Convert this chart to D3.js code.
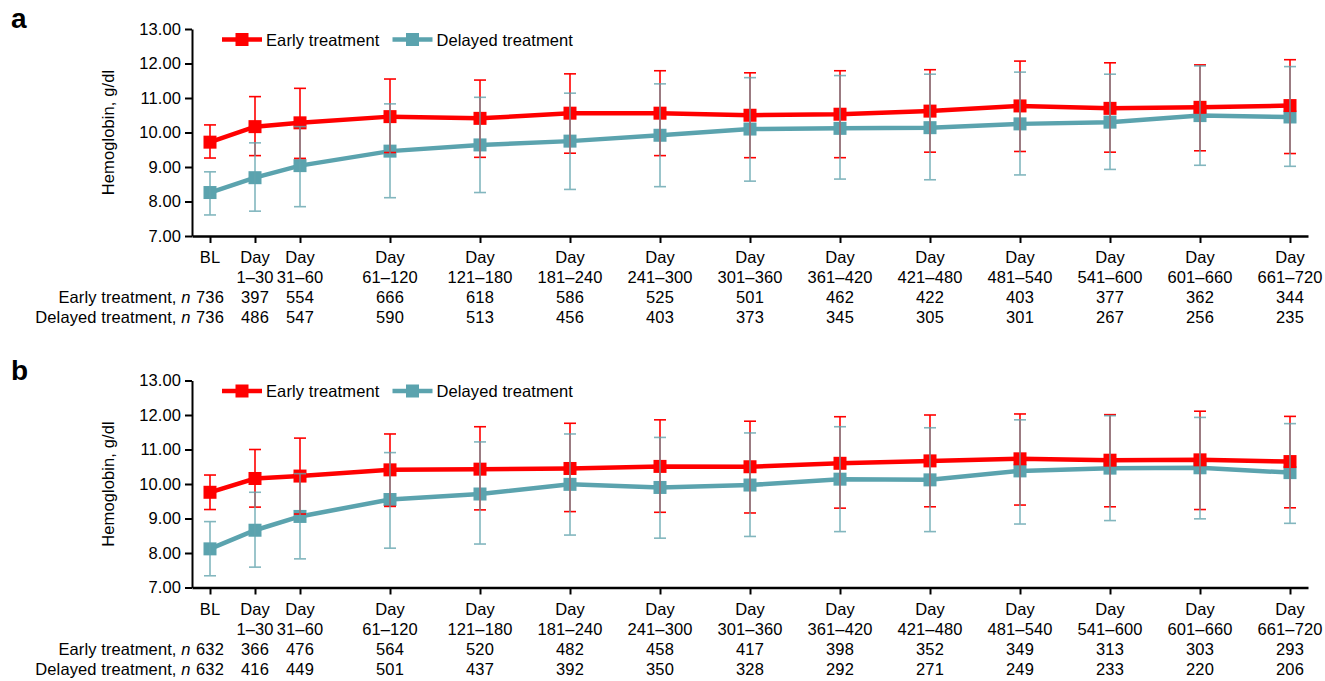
<!DOCTYPE html>
<html><head><meta charset="utf-8">
<script src="https://cdn.jsdelivr.net/npm/d3@7/dist/d3.min.js"></script>
<style>
body{margin:0;background:#fff;}
svg{display:block;font-family:"Liberation Sans",Arial,sans-serif;}
</style></head>
<body><svg id="chart" width="1325" height="681"></svg>
<script>
// ---------- data ----------
const categories = ["BL","Day 1–30","Day 31–60","Day 61–120","Day 121–180","Day 181–240","Day 241–300","Day 301–360","Day 361–420","Day 421–480","Day 481–540","Day 541–600","Day 601–660","Day 661–720"];
const periodEndDay = [0,30,60,120,180,240,300,360,420,480,540,600,660,720];
const yTicks = [7,8,9,10,11,12,13];
const seriesNames = ["Early treatment","Delayed treatment"];

// Panel a
const aEarlyMean  = [9.72,10.17,10.28,10.46,10.41,10.56,10.56,10.50,10.53,10.62,10.77,10.70,10.73,10.78];
const aEarlyUpper = [10.22,11.04,11.28,11.55,11.52,11.70,11.79,11.73,11.79,11.82,12.07,12.02,11.96,12.11];
const aEarlyLower = [9.26,9.33,9.25,9.42,9.28,9.40,9.33,9.27,9.27,9.43,9.45,9.43,9.47,9.39];
const aDelayedMean  = [8.26,8.69,9.04,9.46,9.64,9.75,9.92,10.10,10.12,10.14,10.25,10.30,10.49,10.45];
const aDelayedUpper = [8.86,9.70,10.17,10.83,11.02,11.14,11.41,11.59,11.65,11.69,11.75,11.69,11.93,11.91];
const aDelayedLower = [7.61,7.72,7.85,8.11,8.26,8.35,8.43,8.59,8.65,8.63,8.77,8.93,9.05,9.02];
const aEarlyN   = [736,397,554,666,618,586,525,501,462,422,403,377,362,344];
const aDelayedN = [736,486,547,590,513,456,403,373,345,305,301,267,256,235];

// Panel b
const bEarlyMean  = [9.76,10.16,10.23,10.41,10.43,10.45,10.51,10.50,10.60,10.67,10.73,10.69,10.70,10.65];
const bEarlyUpper = [10.26,11.00,11.33,11.45,11.66,11.76,11.86,11.82,11.95,12.00,12.03,12.01,12.11,11.96];
const bEarlyLower = [9.26,9.33,9.13,9.35,9.25,9.20,9.18,9.16,9.30,9.34,9.39,9.34,9.26,9.31];
const bDelayedMean  = [8.12,8.66,9.06,9.55,9.71,9.99,9.90,9.97,10.14,10.12,10.38,10.46,10.47,10.33];
const bDelayedUpper = [8.91,9.76,10.30,10.91,11.22,11.45,11.35,11.48,11.66,11.63,11.86,11.98,11.93,11.75];
const bDelayedLower = [7.34,7.59,7.83,8.14,8.26,8.52,8.43,8.48,8.62,8.62,8.84,8.94,8.99,8.86];
const bEarlyN   = [632,366,476,564,520,482,458,417,398,352,349,313,303,293];
const bDelayedN = [632,416,449,501,437,392,350,328,292,271,249,233,220,206];

// ---------- styles ----------
const RED = "#ff0000", TEAL = "#5ba3ae", TEAL_BAR = "#64a5af";
const FONT = 16.5, LS = "0.1px";

const svg = d3.select("#chart");
const x = d3.scaleLinear().domain([-12, 732]).range([192, 1308]);

function panel(letter, top, early, delayed, nE, nD) {
  const g = svg.append("g").attr("letter-spacing", LS);
  const y = d3.scaleLinear().domain([7, 13]).range([top + 207, top]);

  g.append("text").attr("x", 11).attr("y", top - 1).attr("font-size", 28)
    .attr("font-weight", "bold").attr("letter-spacing", "0").text(letter);

  // y axis
  const ya = g.append("g").attr("transform", `translate(192,0)`)
    .call(d3.axisLeft(y).tickValues(yTicks).tickFormat(d3.format(".2f")).tickSize(7).tickSizeOuter(0));
  ya.select(".domain").attr("stroke", "#000").attr("stroke-width", 2);
  ya.selectAll(".tick line").attr("stroke", "#000").attr("stroke-width", 2);
  ya.selectAll(".tick text").attr("font-size", FONT).attr("fill", "#000")
    .attr("font-family", '"Liberation Sans",Arial,sans-serif').attr("x", -11);

  // x axis
  const xa = g.append("g").attr("transform", `translate(0,${top + 207})`)
    .call(d3.axisBottom(x).tickValues(periodEndDay).tickFormat("").tickSize(7).tickSizeOuter(0));
  xa.select(".domain").attr("stroke", "#000").attr("stroke-width", 2.5);
  xa.selectAll(".tick line").attr("stroke", "#000").attr("stroke-width", 2);

  // x tick labels
  const base = top + 234;
  categories.forEach((c, i) => {
    const parts = c.split(" ");
    const t = g.append("text").attr("x", x(periodEndDay[i])).attr("y", base)
      .attr("text-anchor", "middle").attr("font-size", FONT);
    t.append("tspan").attr("x", x(periodEndDay[i])).attr("y", base).text(parts[0]);
    if (parts[1]) t.append("tspan").attr("x", x(periodEndDay[i])).attr("y", base + 20).text(parts[1]);
  });

  // n rows
  [[seriesNames[0], nE, base + 40], [seriesNames[1], nD, base + 60]].forEach(([name, arr, yy]) => {
    const lab = g.append("text").attr("x", x(0) - 19.5).attr("y", yy)
      .attr("text-anchor", "end").attr("font-size", FONT);
    lab.append("tspan").text(name + ", ");
    lab.append("tspan").attr("font-style", "italic").text("n");
    arr.forEach((v, i) => {
      g.append("text").attr("x", x(periodEndDay[i])).attr("y", yy)
        .attr("text-anchor", "middle").attr("font-size", FONT).text(v);
    });
  });

  // y-axis title
  g.append("text").attr("transform", `translate(114,${top + 103.5}) rotate(-90)`)
    .attr("text-anchor", "middle").attr("font-size", FONT).text("Hemoglobin, g/dl");

  // lines + markers
  const line = d3.line().x((d, i) => x(periodEndDay[i])).y(d => y(d));
  [[delayed, TEAL], [early, RED]].forEach(([s, col]) => {
    g.append("path").datum(s.mean).attr("d", line).attr("fill", "none")
      .attr("stroke", col).attr("stroke-width", 4.5);
    g.selectAll(null).data(s.mean).enter().append("rect")
      .attr("x", (d, i) => x(periodEndDay[i]) - 6.5).attr("y", d => y(d) - 6.5)
      .attr("width", 13).attr("height", 13).attr("fill", col);
  });

  // error bars
  [[early, RED, 1], [delayed, TEAL_BAR, 0.8]].forEach(([s, col, op]) => {
    const eg = g.append("g").attr("stroke", col).attr("stroke-width", 1.6).attr("opacity", op);
    s.mean.forEach((m, i) => {
      const xx = x(periodEndDay[i]);
      eg.append("line").attr("x1", xx).attr("x2", xx).attr("y1", y(s.lower[i])).attr("y2", y(s.upper[i]));
      eg.append("line").attr("x1", xx - 6).attr("x2", xx + 6).attr("y1", y(s.lower[i])).attr("y2", y(s.lower[i]));
      eg.append("line").attr("x1", xx - 6).attr("x2", xx + 6).attr("y1", y(s.upper[i])).attr("y2", y(s.upper[i]));
    });
  });

  // legend
  const ly = top + 10.5;
  [[seriesNames[0], RED, 222], [seriesNames[1], TEAL, 392.5]].forEach(([name, col, lx]) => {
    g.append("line").attr("x1", lx).attr("x2", lx + 40).attr("y1", ly).attr("y2", ly)
      .attr("stroke", col).attr("stroke-width", 4.5);
    g.append("rect").attr("x", lx + 13.5).attr("y", ly - 6.5).attr("width", 13).attr("height", 13).attr("fill", col);
    g.append("text").attr("x", lx + 44).attr("y", ly + 6).attr("font-size", FONT).text(name);
  });
}

panel("a", 29,
  {mean: aEarlyMean, upper: aEarlyUpper, lower: aEarlyLower},
  {mean: aDelayedMean, upper: aDelayedUpper, lower: aDelayedLower}, aEarlyN, aDelayedN);
panel("b", 380.5,
  {mean: bEarlyMean, upper: bEarlyUpper, lower: bEarlyLower},
  {mean: bDelayedMean, upper: bDelayedUpper, lower: bDelayedLower}, bEarlyN, bDelayedN);
</script></body></html>
